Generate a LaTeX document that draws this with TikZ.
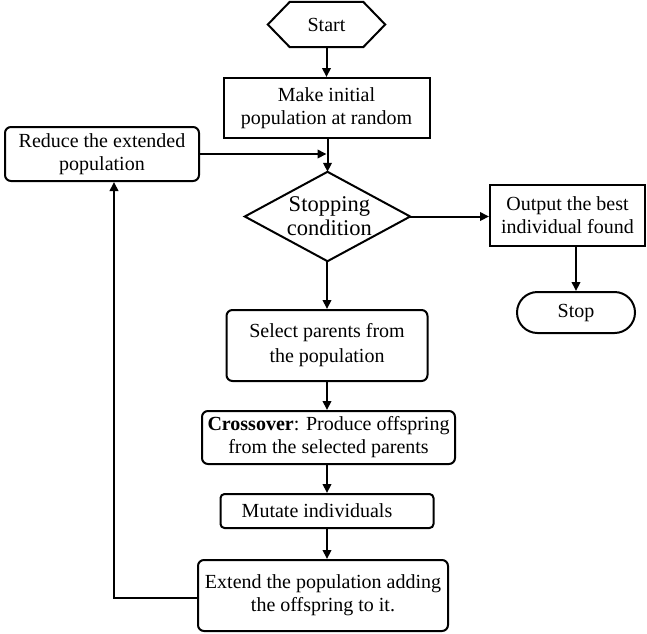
\documentclass[tikz,border=0pt]{standalone}
\usepackage{fontspec}
\setmainfont{Liberation Serif}
\usetikzlibrary{arrows.meta,shapes.misc}
\newcommand{\txtfont}{\fontsize{20}{23}\selectfont}
\newcommand{\bigtxtfont}{\fontsize{22.5}{24}\selectfont}
\begin{document}
\begin{tikzpicture}[x=1pt,y=-1pt,
  lw/.style={line width=2pt},
  txt/.style={inner sep=0pt,align=center,font=\txtfont},
  box/.style={txt,draw,lw},
  rbox/.style={box,rounded corners=6pt},
  sz/.style 2 args={minimum width=#1pt,minimum height=#2pt},
  arr/.style={lw,-{Triangle[length=9pt,width=8.5pt]}}]
\useasboundingbox (0,0) rectangle (647,633);
% start hexagon
\node[txt,sz={117}{45}] (start) at (326.5,24.5) {Start};
\draw[lw] (start.west) -- ([xshift=22pt]start.north west) -- ([xshift=-22pt]start.north east)
  -- (start.east) -- ([xshift=-22pt]start.south east) -- ([xshift=22pt]start.south west) -- cycle;
\node[box,sz={206}{60}] (make) at (326.5,108) {Make initial\\population at random};
\node[rbox,sz={194}{54}] (red) at (102,154) {Reduce the extended\\population};
\node[txt,sz={165}{89},font=\bigtxtfont] (dia) at (327.5,216.5) {\,Stopping\\\,condition};
\draw[lw] (dia.west) -- (dia.north) -- (dia.east) -- (dia.south) -- cycle;
\node[box,sz={155}{61}] (out) at (567.5,215.5) {Output the best\\individual found};
\node[draw,lw,txt,rounded rectangle,sz={118}{41}] (stop) at (576,312.5) {Stop};
\node[rbox,sz={201}{71},font=\fontsize{20}{25}\selectfont] (sel) at (327,345.5) {Select parents from\\the population};
\node[rbox,sz={253}{53}] (cross) at (328.5,437.5) {\textbf{Crossover}: Produce offspring\\from the selected parents};
\node[box,rounded corners=4pt,sz={213}{34}] (mut) at (327,511) {Mutate individuals\hspace*{20pt}};
\node[rbox,sz={250}{71}] (ext) at (323,595.5) {Extend the population adding\\the offspring to it.};
\coordinate (loopx) at (114,0);
% connectors
\draw[arr] (start.south -| make.north) -- (make.north);
\draw[arr] (make.south -| dia.north) -- (dia.north);
\draw[arr,shorten >=1pt] (red.east) -- (red.east -| dia.north);
\draw[arr] (dia.east) -- (dia.east -| out.west);
\draw[arr] (out.south -| stop.north) -- (stop.north);
\draw[arr] (dia.south -| sel.north) -- (sel.north);
\draw[arr] (sel.south) -- (sel.south |- cross.north);
\draw[arr] (mut.north |- cross.south) -- (mut.north);
\draw[arr] (mut.south) -- (mut.south |- ext.north);
\draw[arr] ([yshift=-2pt]ext.west) -| (red.south -| loopx);
\end{tikzpicture}
\end{document}
